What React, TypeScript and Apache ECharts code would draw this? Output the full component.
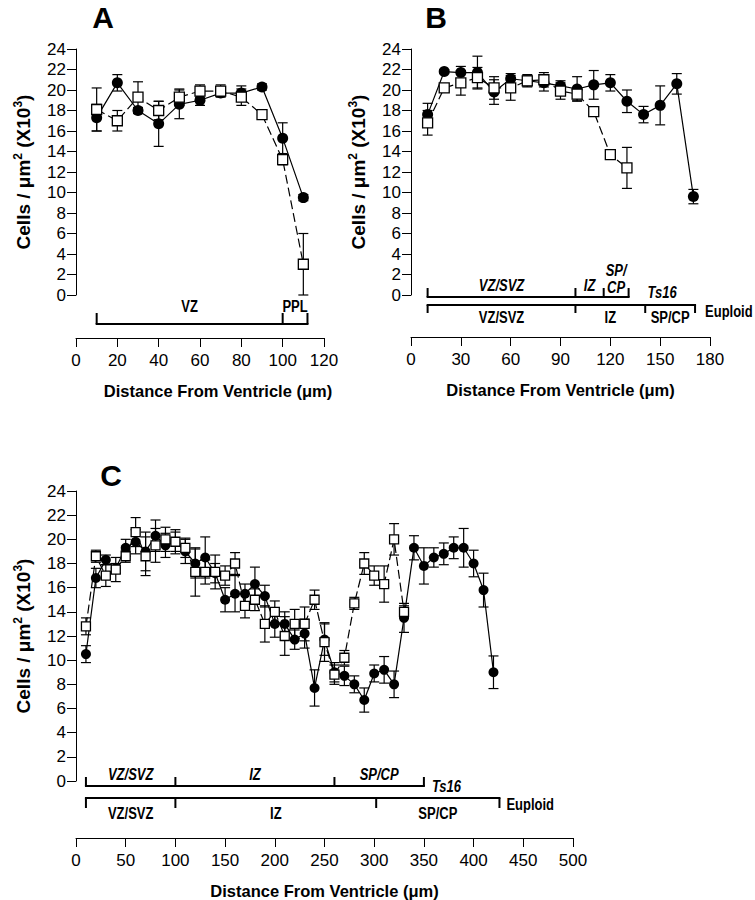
import React, { useEffect, useRef } from 'react';
import * as echarts from 'echarts';

const FONT = '"Liberation Sans", Arial, Helvetica, sans-serif';

// ---------- Panel A ----------
const aDistance = [10, 20, 30, 40, 50, 60, 70, 80, 90, 100, 110];
const aEuploid = [17.3, 20.7, 18.0, 16.7, 18.6, 19.0, 19.7, 19.7, 20.3, 15.3, 9.5];
const aEuploidErr = [1.3, 0.8, 0.3, 2.2, 1.4, 0.5, 0.3, 0.7, 0.3, 1.5, 0.3];
const aTs16 = [18.1, 17.0, 19.3, 18.0, 19.3, 19.9, 19.9, 19.3, 17.6, 13.2, 3.0];
const aTs16Err = [2.1, 1.0, 1.5, 0.9, 0.8, 0.6, 0.6, 0.8, 0.2, 0.5, 3.0];
const aXTicks = { max: 120, interval: 20 };

// ---------- Panel B ----------
const bEuploidDistance = [10, 20, 30, 40, 50, 60, 70, 80, 90, 100, 110, 120, 130, 140, 150, 160, 170];
const bEuploid = [17.6, 21.8, 21.7, 21.7, 19.8, 21.1, 20.9, 20.7, 20.4, 20.1, 20.5, 20.7, 18.9, 17.6, 18.5, 20.6, 9.6];
const bEuploidErr = [1.1, 0.2, 0.6, 1.6, 1.2, 0.5, 0.5, 0.8, 0.5, 1.2, 1.4, 0.8, 1.1, 0.8, 1.9, 1.0, 0.7];
const bTs16Distance = [10, 20, 30, 40, 50, 60, 70, 80, 90, 100, 110, 120, 130];
const bTs16 = [16.8, 20.2, 20.7, 21.2, 20.2, 20.2, 20.9, 21.0, 19.9, 19.6, 17.9, 13.7, 12.4];
const bTs16Err = [1.2, 0.4, 1.2, 1.0, 1.1, 1.2, 0.6, 0.7, 0.8, 0.6, 0.3, 0.3, 2.0];
const bXTicks = { max: 180, interval: 30 };

// ---------- Panel C ----------
const cEuploidDistance = [10, 20, 30, 40, 50, 60, 70, 80, 90, 100, 110, 120, 130, 140, 150, 160, 170, 180, 190, 200, 210, 220, 230, 240, 250, 260, 270, 280, 290, 300, 310, 320, 330, 340, 350, 360, 370, 380, 390, 400, 410, 420];
const cEuploid = [10.5, 16.8, 18.3, 17.6, 19.3, 19.8, 19.0, 20.3, 19.5, 19.8, 19.0, 18.0, 18.5, 17.2, 15.0, 15.5, 15.5, 16.3, 15.3, 13.0, 13.0, 11.7, 12.2, 7.7, 11.7, 9.0, 8.7, 8.0, 6.7, 8.9, 9.2, 8.0, 13.5, 19.3, 17.8, 18.5, 18.8, 19.3, 19.3, 18.0, 15.8, 9.0];
const cEuploidErr = [0.7, 0.8, 0.4, 0.4, 0.7, 1.0, 1.6, 1.3, 1.0, 1.0, 1.0, 1.2, 1.7, 0.8, 1.0, 1.5, 0.8, 1.4, 0.9, 1.1, 1.0, 0.8, 1.2, 1.5, 1.3, 0.8, 0.8, 0.7, 1.0, 0.7, 1.1, 1.1, 1.2, 1.0, 1.5, 0.8, 0.9, 0.9, 1.6, 1.1, 1.4, 1.35];
const cTs16Distance = [10, 20, 30, 40, 50, 60, 70, 80, 90, 100, 110, 120, 130, 140, 150, 160, 170, 180, 190, 200, 210, 220, 230, 240, 250, 260, 270, 280, 290, 300, 310, 320, 330];
const cTs16 = [12.8, 18.6, 17.0, 17.5, 18.6, 20.6, 18.6, 19.5, 20.0, 19.8, 19.3, 17.3, 17.3, 17.3, 17.0, 18.0, 14.5, 15.0, 13.0, 14.0, 12.0, 13.0, 13.0, 15.0, 11.5, 8.8, 10.2, 14.7, 18.0, 17.0, 16.3, 20.0, 14.0];
const cTs16Err = [0.7, 0.5, 0.9, 1.0, 0.5, 1.2, 1.6, 1.4, 1.0, 0.8, 0.8, 2.0, 1.0, 1.4, 0.8, 0.9, 1.0, 0.9, 1.5, 0.9, 1.6, 1.2, 1.4, 0.8, 1.6, 0.8, 0.6, 0.5, 0.9, 0.8, 1.5, 1.3, 0.5];
const cXTicks = { max: 500, interval: 50 };

// ---------- Zone brackets (µm boundaries and labels) ----------
const aZoneBounds = [10, 100, 112];
const aZoneLabels = ['VZ', 'PPL'];
const bTs16Bounds = [10, 99, 116, 131];
const bTs16Labels = ['VZ/SVZ', 'IZ', 'SP/\nCP'];
const bEuploidBounds = [10, 99, 141, 171];
const bEuploidLabels = ['VZ/SVZ', 'IZ', 'SP/CP'];
const cTs16Bounds = [10, 100, 260, 350];
const cTs16Labels = ['VZ/SVZ', 'IZ', 'SP/CP'];
const cEuploidBounds = [10, 100, 302, 426];
const cEuploidLabels = ['VZ/SVZ', 'IZ', 'SP/CP'];

const yTicks = { min: 0, max: 24, interval: 2 };
const panelLetters = ['A', 'B', 'C'];
const xTitle = 'Distance From Ventricle (μm)';

// ---------- styling (separate from data) ----------
type RowStyle = { lineDy: number; tickDy: number; labelDy: number; italic: boolean; endLabel: string; endDx: number; endDy: number };
type Row = { bounds: number[]; labels: string[]; style: RowStyle };

const bracketRowsA: Row[] = [
  { bounds: aZoneBounds, labels: aZoneLabels, style: { lineDy: 29, tickDy: -11, labelDy: 12, italic: false, endLabel: '', endDx: 0, endDy: 0 } },
];
const bracketRowsB: Row[] = [
  { bounds: bTs16Bounds, labels: bTs16Labels, style: { lineDy: 2, tickDy: -9, labelDy: -9, italic: true, endLabel: 'Ts16', endDx: 19, endDy: -2 } },
  { bounds: bEuploidBounds, labels: bEuploidLabels, style: { lineDy: 10, tickDy: 8, labelDy: 23, italic: false, endLabel: 'Euploid', endDx: 10, endDy: 17 } },
];
const bracketRowsC: Row[] = [
  { bounds: cTs16Bounds, labels: cTs16Labels, style: { lineDy: 5, tickDy: -9, labelDy: -6, italic: true, endLabel: 'Ts16', endDx: 8, endDy: 6 } },
  { bounds: cEuploidBounds, labels: cEuploidLabels, style: { lineDy: 17, tickDy: 10, labelDy: 33, italic: false, endLabel: 'Euploid', endDx: 7, endDy: 24 } },
];

const zip = (xs: number[], ys: number[]) => xs.map((x, i) => [x, ys[i]]);
const zip3 = (xs: number[], ys: number[], es: number[]) => xs.map((x, i) => [x, ys[i], es[i]]);

function errorBarRender(params: any, api: any) {
  const x = api.value(0);
  const y = api.value(1);
  const e = api.value(2);
  const hi = api.coord([x, y + e]);
  const lo = api.coord([x, Math.max(0, y - e)]);
  const half = 5;
  const st = { stroke: '#000', lineWidth: 1.2, fill: 'none' };
  return {
    type: 'group',
    children: [
      { type: 'line', shape: { x1: hi[0], y1: hi[1], x2: lo[0], y2: lo[1] }, style: st },
      { type: 'line', shape: { x1: hi[0] - half, y1: hi[1], x2: hi[0] + half, y2: hi[1] }, style: st },
      { type: 'line', shape: { x1: lo[0] - half, y1: lo[1], x2: lo[0] + half, y2: lo[1] }, style: st },
    ],
  };
}

function makeBracketRender(rows: Row[]) {
  return (params: any, api: any) => {
    const row = rows[params.dataIndex];
    const s = row.style;
    const y0 = api.coord([0, 0])[1];
    const ly = y0 + s.lineDy;
    const xs = row.bounds.map((b) => api.coord([b, 0])[0]);
    const st = { stroke: '#000', lineWidth: 2, fill: 'none' };
    const font = `${s.italic ? 'italic ' : ''}bold 13px ${FONT}`;
    const children: any[] = [];
    children.push({ type: 'line', shape: { x1: xs[0] - 1, y1: ly, x2: xs[xs.length - 1] + 1, y2: ly }, style: st });
    xs.forEach((x) => children.push({ type: 'line', shape: { x1: x, y1: ly, x2: x, y2: ly + s.tickDy }, style: st }));
    row.labels.forEach((t, i) => {
      const cx = (xs[i] + xs[i + 1]) / 2;
      const n = t.split('\n').length;
      children.push({
        type: 'text',
        x: cx,
        y: y0 + s.labelDy - ((n - 1) * 14) / 2,
        scaleY: 1.2,
        style: { x: 0, y: 0, text: t, font, fill: '#000', align: 'center', verticalAlign: 'middle', textAlign: 'center', textVerticalAlign: 'middle', lineHeight: 14 },
      });
    });
    if (s.endLabel) {
      children.push({
        type: 'text',
        x: xs[xs.length - 1] + s.endDx,
        y: y0 + s.endDy,
        scaleY: 1.2,
        style: { x: 0, y: 0, text: s.endLabel, font, fill: '#000', align: 'left', verticalAlign: 'middle', textAlign: 'left', textVerticalAlign: 'middle' },
      });
    }
    return { type: 'group', children };
  };
}

const grids = [
  { left: 76, top: 49, width: 248, height: 246 },
  { left: 411, top: 49, width: 299, height: 246 },
  { left: 76, top: 491, width: 497, height: 296 },
];
const xOffsets = [43, 42, 57];
const xNameShift = [36, 0, 0];

function xAxisFor(i: number, ticks: { max: number; interval: number }) {
  return {
    type: 'value',
    gridIndex: i,
    min: 0,
    max: ticks.max,
    interval: ticks.interval,
    offset: xOffsets[i],
    axisLine: { show: true, onZero: false, lineStyle: { color: '#000', width: 1 } },
    axisTick: { show: true, inside: false, length: 9, lineStyle: { color: '#000', width: 1 } },
    axisLabel: { color: '#000', fontSize: 17, fontFamily: FONT, margin: 14 },
    splitLine: { show: false },
    name: xTitle,
    nameLocation: 'middle',
    nameGap: 44,
    nameTextStyle: { color: '#000', fontSize: 16.5, fontWeight: 'bold', fontFamily: FONT, padding: [0, 0, 0, xNameShift[i]] },
  };
}

function yAxisFor(i: number) {
  return {
    type: 'value',
    gridIndex: i,
    min: yTicks.min,
    max: yTicks.max,
    interval: yTicks.interval,
    axisLine: { show: true, onZero: false, lineStyle: { color: '#000', width: 1 } },
    axisTick: { show: true, inside: false, length: 9, lineStyle: { color: '#000', width: 1 } },
    axisLabel: { color: '#000', fontSize: 17, fontFamily: FONT, margin: 10 },
    splitLine: { show: false },
    name: '{a|Cells / μm}{s|2}{a| (X10}{s|3}{a|)}',
    nameLocation: 'middle',
    nameRotate: 90,
    nameGap: 42,
    nameTextStyle: {
      rich: {
        a: { fontFamily: FONT, fontSize: 19, fontWeight: 'bold', color: '#000' },
        s: { fontFamily: FONT, fontSize: 12, fontWeight: 'bold', color: '#000', padding: [0, 0, 10, 0] },
      },
    },
  };
}

function panelSeries(i: number, ex: number[], ey: number[], ee: number[], tx: number[], ty: number[], te: number[], rows: Row[], small: boolean) {
  return [
    { type: 'custom', xAxisIndex: i, yAxisIndex: i, renderItem: errorBarRender, data: zip3(ex, ey, ee), z: 1, silent: true },
    { type: 'custom', xAxisIndex: i, yAxisIndex: i, renderItem: errorBarRender, data: zip3(tx, ty, te), z: 1, silent: true },
    {
      type: 'line', xAxisIndex: i, yAxisIndex: i, data: zip(ex, ey), symbol: 'circle', symbolSize: small ? 10 : 11,
      itemStyle: { color: '#000' }, lineStyle: { color: '#000', width: 1.2 }, z: 3, silent: true,
    },
    {
      type: 'line', xAxisIndex: i, yAxisIndex: i, data: zip(tx, ty), symbol: 'rect', symbolSize: small ? 9 : 10,
      itemStyle: { color: '#fff', borderColor: '#000', borderWidth: 1.3 }, lineStyle: { color: '#000', width: 1.2, type: [9, 4] }, z: 4, silent: true,
    },
    { type: 'custom', xAxisIndex: i, yAxisIndex: i, renderItem: makeBracketRender(rows), data: rows.map((_, k) => [k, 0]), z: 5, silent: true },
  ];
}

const letterPos = [
  [103, 17],
  [436, 17],
  [111, 475],
];

const option: any = {
  animation: false,
  backgroundColor: '#fff',
  grid: grids,
  xAxis: [xAxisFor(0, aXTicks), xAxisFor(1, bXTicks), xAxisFor(2, cXTicks)],
  yAxis: [yAxisFor(0), yAxisFor(1), yAxisFor(2)],
  graphic: panelLetters.map((t, i) => ({
    type: 'text',
    x: letterPos[i][0],
    y: letterPos[i][1],
    style: { text: t, font: `bold 30px ${FONT}`, fill: '#000', align: 'center', verticalAlign: 'middle', textAlign: 'center', textVerticalAlign: 'middle' },
  })),
  series: [
    ...panelSeries(0, aDistance, aEuploid, aEuploidErr, aDistance, aTs16, aTs16Err, bracketRowsA, false),
    ...panelSeries(1, bEuploidDistance, bEuploid, bEuploidErr, bTs16Distance, bTs16, bTs16Err, bracketRowsB, false),
    ...panelSeries(2, cEuploidDistance, cEuploid, cEuploidErr, cTs16Distance, cTs16, cTs16Err, bracketRowsC, true),
  ],
};

export default function App() {
  const ref = useRef<HTMLDivElement>(null);
  useEffect(() => {
    if (!ref.current) return;
    const chart = echarts.init(ref.current, undefined, { renderer: 'svg' });
    chart.setOption(option);
    return () => chart.dispose();
  }, []);
  return <div ref={ref} style={{ position: 'absolute', left: 0, top: 0, width: 755, height: 900, background: '#fff' }} />;
}
